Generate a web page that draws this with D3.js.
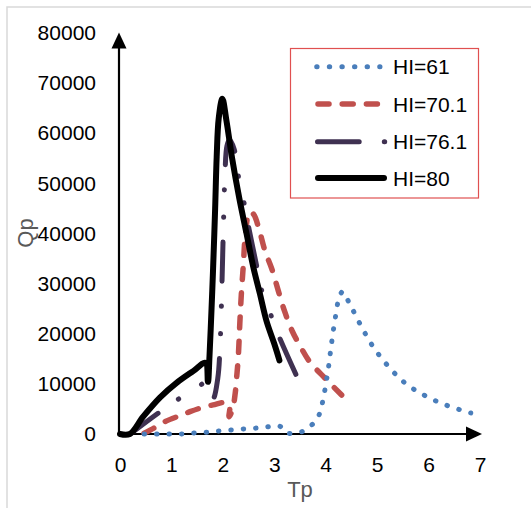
<!DOCTYPE html>
<html>
<head>
<meta charset="utf-8">
<script src="https://cdn.jsdelivr.net/npm/d3@7/dist/d3.min.js"></script>
<style>
  html, body { margin: 0; padding: 0; background: #fff; }
  svg { display: block; font-family: "Liberation Sans", Arial, sans-serif; }
</style>
</head>
<body>
<svg id="chart" width="531" height="508"></svg>
<script>
// ---- data ----
const xTicks = [0, 1, 2, 3, 4, 5, 6, 7];
const yTicks = [0, 10000, 20000, 30000, 40000, 50000, 60000, 70000, 80000];
const seriesNames = ["HI=61", "HI=70.1", "HI=76.1", "HI=80"];

const tp61 = [0.47, 0.96, 1.20, 1.43, 1.67, 1.91, 2.14, 2.38, 2.61, 2.85, 3.10, 3.23, 3.48, 3.68, 3.84, 3.92, 3.97, 4.01, 4.05, 4.08, 4.11, 4.15, 4.20, 4.26, 4.33, 4.45, 4.67, 4.91, 5.20, 5.54, 5.94, 6.37, 6.82];
const qp61 = [0, 0, 0, 200, 330, 600, 800, 1000, 1150, 1400, 1600, 260, 260, 1400, 3130, 5600, 8000, 10400, 13000, 15400, 17800, 20800, 24000, 27200, 28400, 26300, 21900, 17600, 13700, 10200, 7600, 5650, 4200];

const tp70 = [0.25, 0.42, 0.65, 0.87, 1.20, 1.36, 1.65, 1.81, 2.05, 2.13, 2.12, 2.19, 2.24, 2.27, 2.30, 2.33, 2.36, 2.40, 2.44, 2.52, 2.60, 2.70, 2.82, 2.95, 3.08, 3.20, 3.35, 3.50, 3.69, 3.99, 4.31];
const qp70 = [0, 0, 1130, 2450, 3790, 4450, 5450, 5800, 6300, 5800, 3450, 5000, 8100, 11500, 15400, 22100, 28000, 34000, 40000, 44300, 43800, 41000, 36500, 33000, 28500, 24500, 20500, 17600, 14400, 11100, 7780];

const tp76 = [0.20, 0.74, 1.12, 1.52, 1.68, 1.81, 1.90, 1.95, 1.98, 2.01, 2.04, 2.08, 2.13, 2.22, 2.30, 2.40, 2.50, 2.66, 2.75, 2.92, 3.08, 3.42];
const qp76 = [0, 4130, 6850, 9430, 10300, 7100, 11000, 18750, 29000, 41000, 51500, 57500, 58700, 56800, 51500, 46700, 41350, 33400, 28800, 24100, 19750, 11900];

const tp80 = [0, 0.19, 0.45, 0.78, 1.10, 1.43, 1.66, 1.71, 1.74, 1.78, 1.81, 1.85, 1.88, 1.92, 1.99, 2.07, 2.18, 2.32, 2.46, 2.59, 2.72, 2.85, 3.00, 3.10];
const qp80 = [0, 0, 3450, 7300, 10200, 12600, 14200, 10400, 15500, 25000, 33000, 45000, 55300, 63000, 66900, 62500, 55000, 47000, 40000, 33400, 28000, 22500, 18000, 14700];

// ---- layout ----
const svg = d3.select("#chart");
const x = d3.scaleLinear().domain([0, 7]).range([120, 480]);
const y = d3.scaleLinear().domain([0, 80000]).range([434, 33]);

// outer frame
svg.append("rect").attr("x", 7).attr("y", 7).attr("width", 540).attr("height", 520)
  .attr("fill", "none").attr("stroke", "#d9d9d9").attr("stroke-width", 1.5);

// axes tick labels
const gy = svg.append("g").attr("transform", `translate(${x(0)},0)`)
  .call(d3.axisLeft(y).tickValues(yTicks).tickSize(0).tickPadding(24).tickFormat(d3.format("d")));
gy.select(".domain").remove();
gy.selectAll("text").attr("font-size", 21).attr("fill", "#000").attr("font-family", "Liberation Sans, Arial, sans-serif");

const gx = svg.append("g").attr("transform", `translate(0,${y(0)})`)
  .call(d3.axisBottom(x).tickValues(xTicks).tickSize(0).tickPadding(23.5).tickFormat(d3.format("d")));
gx.select(".domain").remove();
gx.selectAll("text").attr("font-size", 21).attr("fill", "#000").attr("font-family", "Liberation Sans, Arial, sans-serif");

// axis lines with arrows
const ax = x(0) - 1;
svg.append("line").attr("x1", ax).attr("y1", y(0)).attr("x2", ax).attr("y2", 46)
  .attr("stroke", "#000").attr("stroke-width", 2.2);
svg.append("path").attr("d", `M${ax},32.5 L${ax - 7.5},48.5 L${ax + 7.5},48.5 Z`).attr("fill", "#000");
svg.append("line").attr("x1", ax).attr("y1", y(0)).attr("x2", 468).attr("y2", y(0))
  .attr("stroke", "#000").attr("stroke-width", 2.2);
svg.append("path").attr("d", `M482,${y(0)} L466,${y(0) - 7.5} L466,${y(0) + 7.5} Z`).attr("fill", "#000");

// axis titles
svg.append("text").attr("x", 300).attr("y", 497).attr("text-anchor", "middle")
  .attr("font-size", 22).attr("fill", "#595959").text("Tp");
svg.append("text").attr("transform", "translate(33,233) rotate(-90)").attr("text-anchor", "middle")
  .attr("font-size", 22).attr("fill", "#595959").text("Qp");

// series
const styles = [
  { color: "#4a7ebb", width: 5, dash: [0.5, 11.9], startPos: 0, endPos: 0.5 },
  { color: "#c0504d", width: 5.5, dash: [11, 13.5], startPos: 13, endPos: 11 },
  { color: "#3f3151", width: 5, dash: [36, 23, 0.3, 25, 0.3, 23], startPos: 4, endPos: 36 },
  { color: "#000000", width: 6, dash: null }
];
const seriesData = [
  d3.zip(tp61, qp61), d3.zip(tp70, qp70), d3.zip(tp76, qp76), d3.zip(tp80, qp80)
];
const line = d3.line().x(d => x(d[0])).y(d => y(d[1])).curve(d3.curveCatmullRom.alpha(0.5));
const order = [1, 2, 3, 0];
order.forEach(i => {
  const s = styles[i];
  const p = svg.append("path").datum(seriesData[i]).attr("d", line)
    .attr("fill", "none").attr("stroke", s.color).attr("stroke-width", s.width)
    .attr("stroke-linecap", "round").attr("stroke-linejoin", "round");
  if (s.dash) {
    const P = d3.sum(s.dash);
    const L = p.node().getTotalLength();
    let span = s.endPos - s.startPos;
    if (span < 0) span += P;
    const n = Math.max(1, Math.round((L - span) / P));
    const k = L / (span + n * P);
    p.attr("stroke-dasharray", s.dash.map(v => v * k).join(" "))
     .attr("stroke-dashoffset", s.startPos * k);
  }
});

// legend
svg.append("rect").attr("x", 290.5).attr("y", 48.5).attr("width", 188).attr("height", 149.5)
  .attr("fill", "#fff").attr("stroke", "#e05050").attr("stroke-width", 1.2);
const legY = [66.7, 104, 141.7, 178];
const legLines = [
  { x1: 316.7, x2: 380, dash: "0.4 12.2" },
  { x1: 318, x2: 378, dash: "11 13.2" },
  { x1: 317.5, x2: 385, dash: "41.7 25.1 0.4 100" },
  { x1: 318, x2: 384, dash: null }
];
seriesNames.forEach((n, i) => {
  const s = styles[i], l = legLines[i];
  const ln = svg.append("line").attr("x1", l.x1).attr("x2", l.x2).attr("y1", legY[i]).attr("y2", legY[i])
    .attr("stroke", s.color).attr("stroke-width", s.width).attr("stroke-linecap", "round");
  if (l.dash) ln.attr("stroke-dasharray", l.dash);
  svg.append("text").attr("x", 393).attr("y", legY[i]).attr("dy", "0.36em")
    .attr("font-size", 21).attr("fill", "#000").text(n);
});
</script>
</body>
</html>
